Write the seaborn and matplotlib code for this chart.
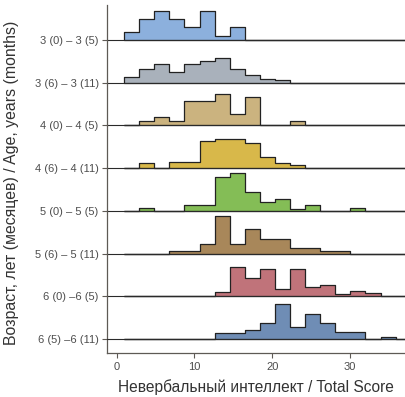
import numpy as np
import pandas as pd
import matplotlib.pyplot as plt
import seaborn as sns

# ---------------------------------------------------------
# DATA (bar heights, arbitrary units)
# ---------------------------------------------------------
groups = ['3 (0) – 3 (5)', '3 (6) – 3 (11)', '4 (0) – 4 (5)', '4 (6) – 4 (11)',
          '5 (0) – 5 (5)', '5 (6) – 5 (11)', '6 (0) –6 (5)', '6 (5) –6 (11)']
colors = ['#8cb0dd', '#a9b1bb', '#cbb37f', '#d8b84a',
          '#84bd56', '#a8875a', '#c0737a', '#6f8db5']

bin_edges = [round(0.95 + 1.94 * k, 3) for k in range(20)]

h_3_0 = [25, 63, 88, 63, 38, 88, 13, 38, 0, 0, 0, 0, 0, 0, 0, 0, 0, 0, 0]
h_3_6 = [16, 40, 55, 33, 55, 65, 73, 40, 23, 11, 7, 0, 0, 0, 0, 0, 0, 0, 0]
h_4_0 = [0, 12, 25, 12, 72, 72, 95, 35, 85, 0, 0, 12, 0, 0, 0, 0, 0, 0, 0]
h_4_6 = [0, 15, 0, 18, 18, 80, 87, 87, 75, 32, 15, 8, 0, 0, 0, 0, 0, 0, 0]
h_5_0 = [0, 9, 0, 0, 19, 19, 102, 112, 57, 26, 36, 7, 17, 0, 0, 8, 0, 0, 0]
h_5_6 = [0, 0, 0, 7, 7, 30, 113, 30, 75, 45, 45, 17, 17, 7, 7, 0, 0, 0, 0]
h_6_0 = [0, 0, 0, 0, 0, 0, 14, 89, 55, 82, 22, 82, 27, 35, 8, 15, 9, 0, 0]
h_6_6 = [0, 0, 0, 0, 0, 0, 18, 18, 28, 48, 105, 35, 76, 48, 20, 20, 0, 6, 0]
heights = [h_3_0, h_3_6, h_4_0, h_4_6, h_5_0, h_5_6, h_6_0, h_6_6]

edges = np.array(bin_edges)
centers = (edges[:-1] + edges[1:]) / 2
rows = []
for name, h in zip(groups, heights):
    for c, v in zip(centers, h):
        rows.append({'group': name, 'score': c, 'height': v / 128})
df = pd.DataFrame(rows)

# ---------------------------------------------------------
# PLOT: one facet per age band, stacked as ridges
# ---------------------------------------------------------
sns.set_theme(style="ticks")
plt.rcParams['font.family'] = ['Liberation Sans', 'DejaVu Sans']

ratios = [35] + [42.7] * 6 + [56.7]
g = sns.FacetGrid(df, row='group', row_order=groups, sharex=True, sharey=False,
                  height=0.5, aspect=8, gridspec_kws={'height_ratios': ratios})
g.figure.set_size_inches(4.05, 3.97)

spine_col = '#5e5a55'
for i, (ax, name, col) in enumerate(zip(g.axes.flat, groups, colors)):
    sub = df[df['group'] == name]
    sns.histplot(data=sub, x='score', weights='height', bins=bin_edges,
                 element='step', fill=True, color=col, alpha=1,
                 edgecolor='#222222', linewidth=0.9, ax=ax)
    for art in ax.collections + ax.lines + ax.patches:
        art.set_clip_on(False)
    ax.axhline(0, color='#2a2a2a', lw=0.8, clip_on=False, zorder=3)
    ax.patch.set_visible(False)
    ax.set_title('')
    ax.set_xlabel('')
    ax.set_ylabel('')
    ax.set_xlim(-1.25, 37.07)
    if i == 0:
        ax.set_ylim(0, 35 / 42.7)
    elif i == len(groups) - 1:
        ax.set_ylim(-14 / 42.7, 1)
    else:
        ax.set_ylim(0, 1)
    ax.set_yticks([0])
    ax.set_yticklabels([name], fontsize=8, color='#4d4d4d')
    ax.tick_params(axis='y', length=3.5, width=0.8, color=spine_col, pad=2.5)
    ax.spines['left'].set_color(spine_col)
    ax.spines['left'].set_linewidth(0.9)
    ax.spines['top'].set_visible(False)
    ax.spines['right'].set_visible(False)
    if i < len(groups) - 1:
        ax.spines['bottom'].set_visible(False)
        ax.tick_params(axis='x', bottom=False, labelbottom=False)
    else:
        ax.spines['bottom'].set_color(spine_col)
        ax.spines['bottom'].set_linewidth(0.9)
        ax.set_xticks([0, 10, 20, 30])
        ax.tick_params(axis='x', length=3.5, width=0.8, color=spine_col,
                       labelsize=8, labelcolor='#4d4d4d', pad=3)
        ax.set_xlabel('Невербальный интеллект / Total Score', fontsize=11.2,
                      color='#333333', labelpad=5)

g.figure.subplots_adjust(left=107 / 405, right=1.0, top=1 - 5 / 397,
                         bottom=1 - 353 / 397, hspace=0)
g.figure.text(12 / 405, 1 - 183 / 397, 'Возраст, лет (месяцев) / Age, years (months)',
              rotation=90, ha='center', va='center', fontsize=11.4, color='#333333')

g.figure.savefig('out.png', dpi=100)
